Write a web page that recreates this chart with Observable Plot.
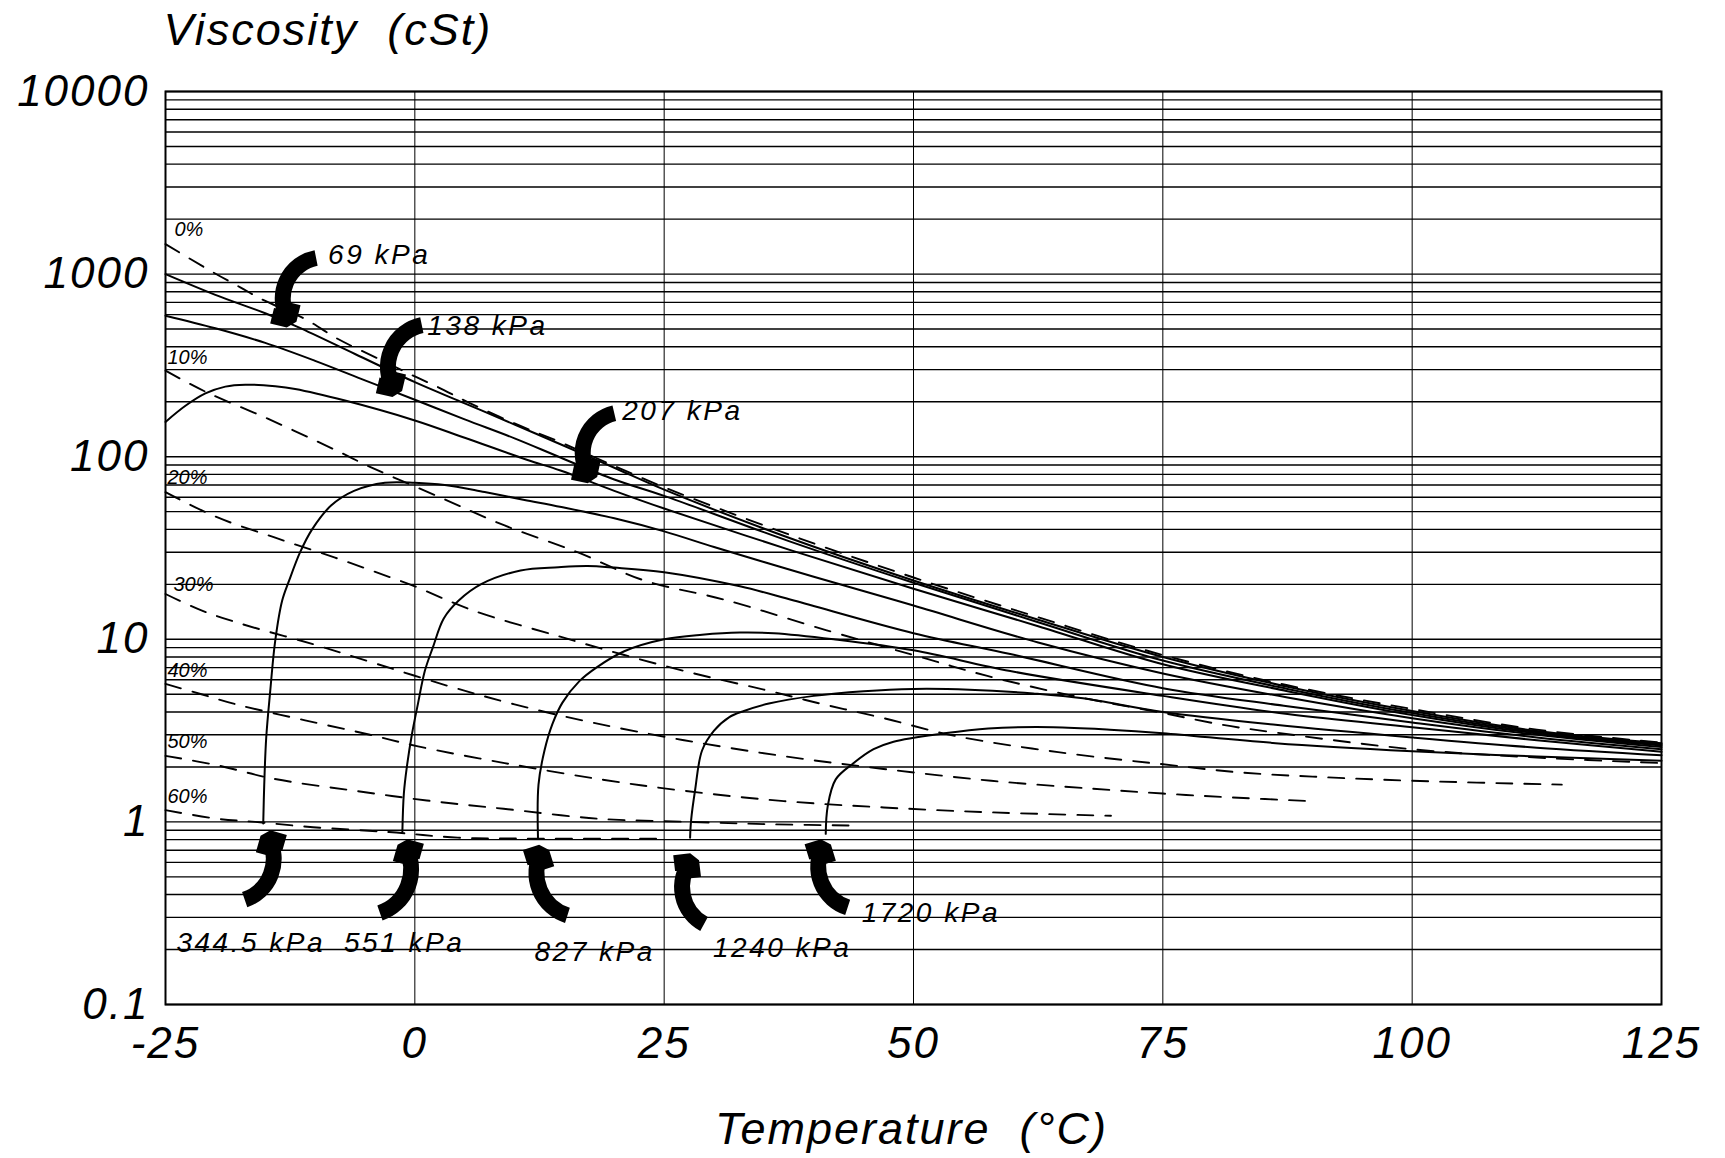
<!DOCTYPE html>
<html><head><meta charset="utf-8">
<script src="https://cdn.jsdelivr.net/npm/d3@7"></script>
<script src="https://cdn.jsdelivr.net/npm/@observablehq/plot@0.6"></script>
<style>
html,body{margin:0;padding:0;background:#fff;}
#chart svg{display:block;}
#chart text{white-space:pre;}
#chart g[aria-label="x-axis tick label"] text,#chart g[aria-label="y-axis tick label"] text{letter-spacing:2px;}
.plabel text{letter-spacing:2.5px;}
.title text{letter-spacing:2px;}
</style></head><body><div id="chart"></div>
<script>
// ---- axes ----
const temperatureTicks = [-25, 0, 25, 50, 75, 100, 125];
const viscosityTicks = [0.1, 1, 10, 100, 1000, 10000];
const gridDecades = [0.1, 1, 10, 100, 1000];
const gridMantissas = [1, 2, 3, 4, 5, 6, 7, 8, 9];

// ---- dashed lines: % (concentration), [temperature °C, viscosity cSt] ----
const concNames = ["0%", "10%", "20%", "30%", "40%", "50%", "60%"];
const conc0 = [[-25,1460],[-20.5,1043],[-17.5,846],[-15.4,730],[-11,567],[-7.7,441],[-4,351],[0,275],[2.35,240],[5.4,198],[10,152],[14.6,120],[20,89],[25,68],[37.5,37.5],[50,21.8],[62.5,13.2],[75,8.2],[87.5,5.6],[100,4.15],[112.5,3.2],[125,2.72]];
const conc10 = [[-25,296],[-21,227],[-14.8,162],[-8,109],[-4.5,88],[2.5,60],[9,42],[16.3,30],[23,21],[31,16.5],[41.3,11.2],[50,8.2],[57.4,6.3],[66,4.9],[75,3.95],[81,3.4],[86,3.1],[100,2.5],[112.5,2.25],[125,2.1]];
const conc20 = [[-25,64],[-20,47],[-14,36],[-8,28],[-2.6,22],[0,19.5],[5.8,14.4],[14.4,10.4],[21,8.2],[28,6.5],[35,5.3],[41,4.4],[47,3.7],[54,2.97],[64.5,2.41],[76,2.04],[82.5,1.87],[90,1.77],[100,1.68],[115,1.6]];
const conc30 = [[-25,17.7],[-21.4,14.4],[-17.5,12.2],[-10.2,9.4],[-3.7,7.3],[3.6,5.5],[10,4.4],[17.8,3.5],[27,2.8],[37,2.29],[47,1.95],[57.8,1.68],[68,1.52],[75,1.43],[82,1.36],[89.8,1.3]];
const conc40 = [[-25,5.7],[-21.4,5.0],[-17.9,4.4],[-11,3.6],[-4.5,3.0],[0.2,2.6],[9,2.1],[18.6,1.71],[27,1.48],[37,1.3],[47,1.2],[57.4,1.13],[69.8,1.08]];
const conc50 = [[-25,2.3],[-19.8,2.04],[-14.1,1.72],[-6.4,1.49],[1.2,1.31],[8.9,1.18],[18.5,1.04],[27.7,1.0],[36,0.97],[44.5,0.955]];
const conc60 = [[-25,1.16],[-19.8,1.04],[-16,1.0],[-10.2,0.935],[-2.6,0.88],[4.3,0.82],[12,0.81],[25,0.81]];

// ---- solid lines: pressure, [temperature °C, viscosity cSt] ----
const pressNames = ["69 kPa", "138 kPa", "207 kPa", "344.5 kPa", "551 kPa", "827 kPa", "1240 kPa", "1720 kPa"];
const p69 = [[-25,1000],[-20,770],[-15,610],[-11.7,512],[-6,365],[0,256],[5,196],[10,150],[14.6,117],[20,87],[25,66],[37.5,36],[50,21],[62.5,12.8],[75,8.0],[87.5,5.5],[100,4.05],[112.5,3.15],[125,2.7]];
const p138 = [[-25,592],[-20,505],[-15,420],[-10,335],[-5,262],[0,205],[5,160],[10,126],[14.6,99],[20,75],[25,61],[37.5,34.5],[50,20.4],[62.5,12.4],[75,7.65],[87.5,5.35],[100,3.95],[112.5,3.1],[125,2.66]];
const p207 = [[-25,155],[-23,190],[-21,222],[-19,242],[-17,248],[-14,243],[-12,235],[-7,203],[0,158],[5,127],[11.3,96],[14.6,84],[20,65],[25,52],[37.5,31],[50,18.9],[62.5,11.8],[75,7.3],[87.5,5.2],[100,3.85],[112.5,3.05],[125,2.62]];
const p344 = [[-15.2,0.98],[-15.1,1.6],[-14.9,2.9],[-14.5,5.2],[-14.0,9.8],[-13.3,16.3],[-12.6,21],[-11.5,30],[-10.3,40],[-8.4,54],[-6.1,65],[-3,72],[0,72],[3,70],[7,64],[11,58],[14.7,53],[20,46],[25,39],[30,32],[35,26.5],[40,22],[50,15.3],[62.5,9.6],[75,6.5],[87.5,4.8],[100,3.7],[112.5,3.0],[125,2.57]];
const p551 = [[-1.25,0.88],[-1.1,1.43],[-0.8,2.0],[-0.3,3.0],[0.3,4.4],[1.0,6.7],[1.8,9.0],[2.9,13],[4.4,16.3],[6.7,20.1],[10.6,23.8],[14.4,24.8],[17.3,25.2],[20,24.7],[25,23.3],[32.6,19.5],[38,16.3],[50,10.8],[59.7,8.3],[75,5.4],[87.5,4.3],[100,3.5],[112.5,2.9],[125,2.5]];
const p827 = [[12.35,0.81],[12.4,1.6],[13.0,2.46],[13.8,3.44],[14.8,4.5],[16.5,5.9],[18.2,7.0],[21,8.6],[25,10.0],[28.8,10.6],[32.6,10.9],[36,10.8],[42,10.0],[50,8.7],[59.7,6.7],[75,4.9],[87.5,3.9],[100,3.3],[112.5,2.8],[125,2.42]];
const p1240 = [[27.6,0.82],[27.7,1.02],[28.1,1.49],[28.8,2.46],[30,3.16],[31.5,3.74],[33,4.05],[35.5,4.45],[40,4.9],[45,5.2],[50,5.35],[55.6,5.3],[62,5.05],[67,4.75],[75,4.0],[86.3,3.4],[100,2.9],[112.5,2.55],[125,2.32]];
const p1720 = [[41.2,0.86],[41.4,1.22],[42.2,1.71],[44,2.1],[46,2.5],[48,2.75],[53,3.05],[57.5,3.25],[64,3.3],[69.7,3.2],[75,3.06],[86.3,2.7],[100,2.44],[112.5,2.28],[125,2.16]];

// ---- label anchors (data coordinates) ----
const concLabelT = [-24.1, -24.8, -24.8, -24.2, -24.8, -24.8, -24.8];
const concLabelV = [1760, 351, 77, 20, 6.76, 2.74, 1.38];
const pressLabelT = [-8.7, 1.25, 20.8, -23.9, -7.1, 12.0, 29.9, 44.8];
const pressLabelV = [1277, 518, 177, 0.218, 0.218, 0.195, 0.203, 0.317];
// arrows: tail -> head (temperature, viscosity), bend in degrees
const arrowTails = [[-9.9,1225],[0.7,525],[20,173],[-17.06,0.375],[-3.5,0.317],[15.3,0.308],[29,0.276],[43.4,0.34]];
const arrowHeads = [[-12.65,562],[-2.06,234],[17.5,79],[-14.7,0.817],[-0.96,0.73],[12.7,0.68],[27.7,0.61],[40.95,0.73]];
const arrowBends = [-55, -55, -55, -50, -50, 50, 50, 50];

// ---- build tables ----
const concSeries = [conc0, conc10, conc20, conc30, conc40, conc50, conc60];
const pressSeries = [p69, p138, p207, p344, p551, p827, p1240, p1720];
const dashRows = concSeries.flatMap((s, i) => s.map(([T, v]) => ({series: concNames[i], T, v})));
const solidRows = pressSeries.flatMap((s, i) => s.map(([T, v]) => ({series: pressNames[i], T, v})));
const gridY = gridDecades.flatMap(d => gridMantissas.map(m => +(m * d).toPrecision(3))).concat([10000]);
const concLabels = concNames.map((name, i) => ({name, T: concLabelT[i], v: concLabelV[i]}));
const pressLabels = pressNames.map((name, i) => ({name, T: pressLabelT[i], v: pressLabelV[i]}));
const arrows = arrowTails.map((t, i) => ({x1: t[0], y1: t[1], x2: arrowHeads[i][0], y2: arrowHeads[i][1], bend: arrowBends[i]}));

const font = "'Liberation Sans', Arial, Helvetica, sans-serif";

const chart = Plot.plot({
  width: 1725,
  height: 1158,
  marginLeft: 165,
  marginRight: 64,
  marginTop: 91,
  marginBottom: 154,
  style: {fontFamily: font, fontStyle: "italic", background: "white", color: "black"},
  x: {domain: [-25, 125]},
  y: {type: "log", domain: [0.1, 10000]},
  marks: [
    Plot.ruleY(gridY, {stroke: "black", strokeWidth: 1.4}),
    Plot.ruleX(temperatureTicks, {stroke: "black", strokeWidth: 1}),
    Plot.frame({stroke: "black", strokeWidth: 2}),
    Plot.line(dashRows, {x: "T", y: "v", z: "series", stroke: "black", strokeWidth: 1.9, strokeDasharray: "16,12", curve: "catmull-rom"}),
    Plot.line(solidRows, {x: "T", y: "v", z: "series", stroke: "black", strokeWidth: 2, curve: "catmull-rom"}),
    ...arrows.map(a => Plot.arrow([a], {x1: "x1", y1: "y1", x2: "x2", y2: "y2", bend: a.bend, stroke: "black", strokeWidth: 16, headLength: 1.6, headAngle: 90, strokeLinecap: "butt", strokeLinejoin: "miter"})),
    Plot.text(concLabels, {x: "T", y: "v", text: "name", textAnchor: "start", fontSize: 20, fill: "black"}),
    Plot.text(pressLabels, {x: "T", y: "v", text: "name", textAnchor: "start", fontSize: 28, fill: "black", className: "plabel"}),
    Plot.axisX(temperatureTicks, {tickFormat: d => String(d), tickSize: 0, tickPadding: 22, fontSize: 44, label: null}),
    Plot.axisY(viscosityTicks, {tickFormat: d => String(d), tickSize: 0, tickPadding: 16, fontSize: 44, label: null}),
    Plot.text(["Viscosity\u00a0 (cSt)"], {text: d => d, frameAnchor: "top-left", textAnchor: "start", dx: -2, dy: -78, fontSize: 45, fill: "black", className: "title"}),
    Plot.text(["Temperature\u00a0 (°C)"], {text: d => d, frameAnchor: "bottom", dx: -2, dy: 139, fontSize: 45, fill: "black", className: "title"})
  ]
});
document.getElementById("chart").appendChild(chart);
</script>
</body></html>
